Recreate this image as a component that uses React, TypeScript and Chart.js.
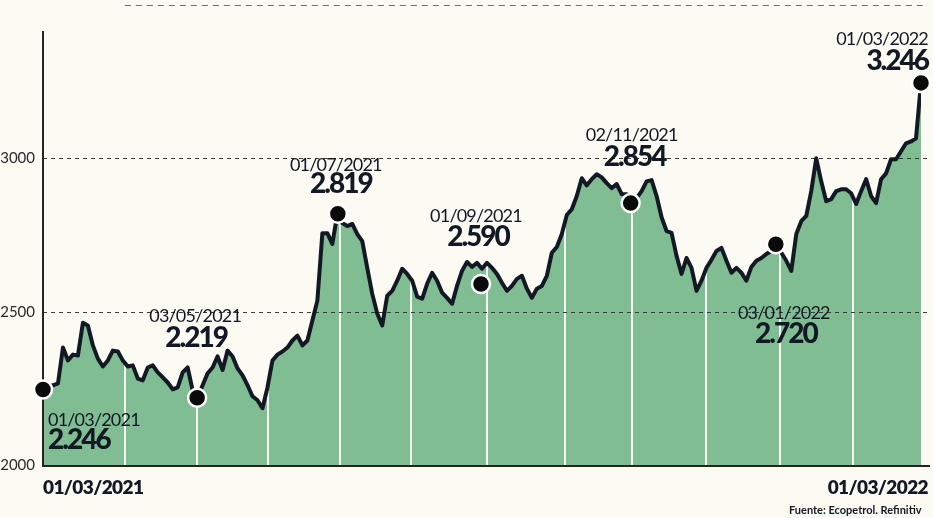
import React, { useEffect, useRef } from 'react';
import { Chart, registerables } from 'chart.js';

Chart.register(...registerables);

// ---- DATA ----
const PRICES: number[] = [
  2246, 2256, 2260, 2266, 2383, 2341, 2360, 2357, 2464, 2455,
  2390, 2347, 2321, 2341, 2373, 2370, 2341, 2321, 2325, 2282,
  2276, 2318, 2325, 2302, 2286, 2269, 2247, 2253, 2302, 2318,
  2243, 2219, 2260, 2299, 2318, 2354, 2310, 2373, 2354, 2315,
  2292, 2260, 2224, 2211, 2185, 2253, 2341, 2360, 2370, 2383,
  2406, 2422, 2390, 2406, 2471, 2536, 2756, 2756, 2721, 2819,
  2789, 2779, 2786, 2753, 2730, 2643, 2558, 2494, 2455, 2552,
  2568, 2601, 2640, 2623, 2601, 2549, 2542, 2591, 2627, 2601,
  2562, 2545, 2526, 2584, 2633, 2662, 2646, 2659, 2640, 2659,
  2643, 2623, 2594, 2568, 2584, 2607, 2617, 2575, 2545, 2575,
  2584, 2617, 2692, 2711, 2753, 2815, 2834, 2877, 2935, 2912,
  2932, 2948, 2938, 2919, 2903, 2916, 2883, 2883, 2854, 2870,
  2893, 2925, 2929, 2877, 2808, 2763, 2757, 2682, 2623, 2675,
  2643, 2568, 2601, 2643, 2669, 2698, 2708, 2666, 2627, 2643,
  2627, 2601, 2646, 2666, 2675, 2688, 2698, 2720, 2692, 2666,
  2633, 2753, 2795, 2812, 2893, 3000, 2925, 2860, 2867, 2893,
  2899, 2899, 2886, 2851, 2893, 2932, 2877, 2854, 2932, 2951,
  2997, 2997, 3023, 3049, 3055, 3065, 3246,
];

const X_START_LABEL = '01/03/2021';
const X_END_LABEL = '01/03/2022';
const Y_MIN = 2000;
const Y_MAX = 3500;
const Y_STEP = 500;
const Y_LABELED = [2000, 2500, 3000];
const Y_DASHED = [2500, 3000];
const Y_TOP_RULE = 3500;
const Y_AXIS_TOP = 3415;

// month starts, in index units of PRICES
const MONTH_STARTS = [16.4, 30.9, 45.1, 59.5, 73.7, 89, 104.6, 118, 133, 147.7, 162.3];

const CALLOUT_DATES = ['01/03/2021', '03/05/2021', '01/07/2021', '01/09/2021', '02/11/2021', '03/01/2022', '01/03/2022'];
const CALLOUT_VALUES = [2246, 2219, 2819, 2590, 2854, 2720, 3246];
const CALLOUT_INDEX = [0, 30.9, 59.1, 87.8, 117.8, 146.9, 176];

const SOURCE = 'Fuente: Ecopetrol. Refinitiv';

// ---- STYLE ----
const BG = '#fcfbf3';
const GREEN = '#80bd92';
const INK = '#121824';
const FAMILY = 'Lato, "Open Sans", sans-serif';

// text placement relative to each dot (px)
const CALLOUT_LAYOUT = [
  { align: 'left', dx: 5, vdx: 5, dateDy: 36, valDy: 59 },
  { align: 'center', dx: -2, vdx: -1, dateDy: -76, valDy: -51 },
  { align: 'center', dx: -2, vdx: 3, dateDy: -43, valDy: -21 },
  { align: 'center', dx: -5, vdx: -3, dateDy: -62, valDy: -38 },
  { align: 'center', dx: 1, vdx: 4, dateDy: -62, valDy: -37 },
  { align: 'center', dx: 8, vdx: 10, dateDy: 75, valDy: 99 },
  { align: 'right', dx: 7, vdx: 7, dateDy: -38, valDy: -13 },
];

const fmt = (v: number) => Math.floor(v / 1000) + '.' + String(v % 1000).padStart(3, '0');

const FILL_IDX = 0;
const LINE_IDX = 1;
const DOT_IDX = 2;

const decorPlugin = {
  id: 'decor',
  beforeDraw(chart: any) {
    const ctx = chart.ctx;
    ctx.save();
    ctx.fillStyle = BG;
    ctx.fillRect(0, 0, chart.width, chart.height);
    ctx.restore();
  },
  afterDatasetDraw(chart: any, args: any) {
    const ctx = chart.ctx;
    const ca = chart.chartArea;
    const xs = chart.scales.x;
    const ys = chart.scales.y;
    if (args.index === FILL_IDX) {
      const pts = args.meta.data;
      ctx.save();
      ctx.beginPath();
      ctx.moveTo(pts[0].x, ca.bottom);
      pts.forEach((p: any) => ctx.lineTo(p.x, p.y));
      ctx.lineTo(pts[pts.length - 1].x, ca.bottom);
      ctx.closePath();
      ctx.clip();
      ctx.strokeStyle = '#f3f8f0';
      ctx.lineWidth = 2;
      MONTH_STARTS.forEach((m) => {
        const px = Math.round(xs.getPixelForValue(m));
        ctx.beginPath();
        ctx.moveTo(px, ca.bottom);
        ctx.lineTo(px, ca.top);
        ctx.stroke();
      });
      ctx.restore();

      ctx.save();
      ctx.lineWidth = 1;
      ctx.strokeStyle = '#3b3b3b';
      ctx.setLineDash([4, 4]);
      Y_DASHED.forEach((v) => {
        const py = Math.round(ys.getPixelForValue(v)) + 0.5;
        ctx.beginPath();
        ctx.moveTo(ca.left, py);
        ctx.lineTo(chart.width - 4, py);
        ctx.stroke();
      });
      ctx.strokeStyle = '#6d6d6d';
      ctx.setLineDash([6, 5]);
      const ty = Math.round(ys.getPixelForValue(Y_TOP_RULE)) + 0.5;
      ctx.beginPath();
      ctx.moveTo(xs.getPixelForValue(MONTH_STARTS[0]), ty);
      ctx.lineTo(chart.width - 6, ty);
      ctx.stroke();
      ctx.restore();
    }
    if (args.index === LINE_IDX) {
      ctx.save();
      ctx.strokeStyle = '#2a2222';
      ctx.lineWidth = 2;
      ctx.beginPath();
      ctx.moveTo(ca.left, ys.getPixelForValue(Y_AXIS_TOP));
      ctx.lineTo(ca.left, ca.bottom + 1);
      ctx.lineTo(chart.width - 3, ca.bottom + 1);
      ctx.stroke();
      ctx.restore();
    }
  },
  afterDraw(chart: any) {
    const ctx = chart.ctx;
    const ca = chart.chartArea;
    const xs = chart.scales.x;
    const dots = chart.getDatasetMeta(DOT_IDX).data;
    ctx.save();
    ctx.fillStyle = INK;
    ctx.textBaseline = 'alphabetic';
    CALLOUT_DATES.forEach((d, i) => {
      const p = dots[i];
      const L = CALLOUT_LAYOUT[i];
      ctx.textAlign = L.align;
      ctx.font = `400 18px ${FAMILY}`;
      (ctx as any).letterSpacing = '-0.8px';
      ctx.fillText(d, p.x + L.dx, p.y + L.dateDy);
      ctx.font = `900 28px ${FAMILY}`;
      (ctx as any).letterSpacing = '-2px';
      ctx.fillText(fmt(CALLOUT_VALUES[i]), p.x + L.vdx, p.y + L.valDy);
    });
    // x axis end labels
    ctx.font = `800 19px ${FAMILY}`;
    (ctx as any).letterSpacing = '-0.6px';
    ctx.textAlign = 'left';
    ctx.fillText(X_START_LABEL, xs.getPixelForValue(0), ca.bottom + 29);
    ctx.textAlign = 'right';
    ctx.fillText(X_END_LABEL, xs.getPixelForValue(PRICES.length - 1) + 7, ca.bottom + 29);
    // source
    ctx.font = `700 11px ${FAMILY}`;
    (ctx as any).letterSpacing = '0px';
    ctx.textAlign = 'left';
    ctx.fillText(SOURCE, 789, chart.height - 4);
    ctx.restore();
  },
};

export default function App() {
  const ref = useRef<HTMLCanvasElement | null>(null);

  useEffect(() => {
    document.body.style.margin = '0';
    document.body.style.overflow = 'hidden';
    const canvas = ref.current;
    if (!canvas) return;
    const series = PRICES.map((v, i) => ({ x: i, y: v }));
    const dotData = CALLOUT_VALUES.map((v, i) => ({ x: CALLOUT_INDEX[i], y: v }));
    const chart = new Chart(canvas, {
      type: 'line',
      data: {
        datasets: [
          {
            data: series,
            fill: 'start',
            backgroundColor: GREEN,
            borderWidth: 0,
            pointRadius: 0,
            tension: 0,
            order: 3,
          },
          {
            data: series,
            fill: false,
            borderColor: INK,
            borderWidth: 4,
            borderJoinStyle: 'round',
            borderCapStyle: 'round',
            pointRadius: 0,
            tension: 0,
            order: 2,
          },
          {
            data: dotData,
            showLine: false,
            pointRadius: 9,
            pointBackgroundColor: '#0a0a0a',
            pointBorderColor: '#ffffff',
            pointBorderWidth: 2.5,
            clip: false,
            order: 1,
          } as any,
        ],
      },
      options: {
        animation: false,
        responsive: false,
        devicePixelRatio: 1,
        layout: { padding: { left: 0, right: 12, top: 5, bottom: 53 } },
        plugins: { legend: { display: false }, tooltip: { enabled: false } },
        events: [],
        scales: {
          x: {
            type: 'linear',
            min: 0,
            max: PRICES.length - 1,
            display: false,
          },
          y: {
            min: Y_MIN,
            max: Y_MAX,
            grid: { display: false, drawTicks: false },
            border: { display: false },
            afterFit: (s: any) => {
              s.width = 43;
              s.paddingTop = 0;
              s.paddingBottom = 0;
            },
            ticks: {
              stepSize: Y_STEP,
              padding: 8,
              color: '#2a2a2a',
              font: { family: FAMILY, size: 15 },
              callback: (v: any) => (Y_LABELED.includes(Number(v)) ? String(v) : ''),
            },
          },
        },
      },
      plugins: [decorPlugin],
    });
    // the callout dots may overhang the plot area; do not let them shrink it
    const dotCtrl: any = chart.getDatasetMeta(DOT_IDX).controller;
    dotCtrl.getMaxOverflow = () => 0;
    chart.update();
    return () => chart.destroy();
  }, []);

  return <canvas ref={ref} width={933} height={518} style={{ display: 'block' }} />;
}
